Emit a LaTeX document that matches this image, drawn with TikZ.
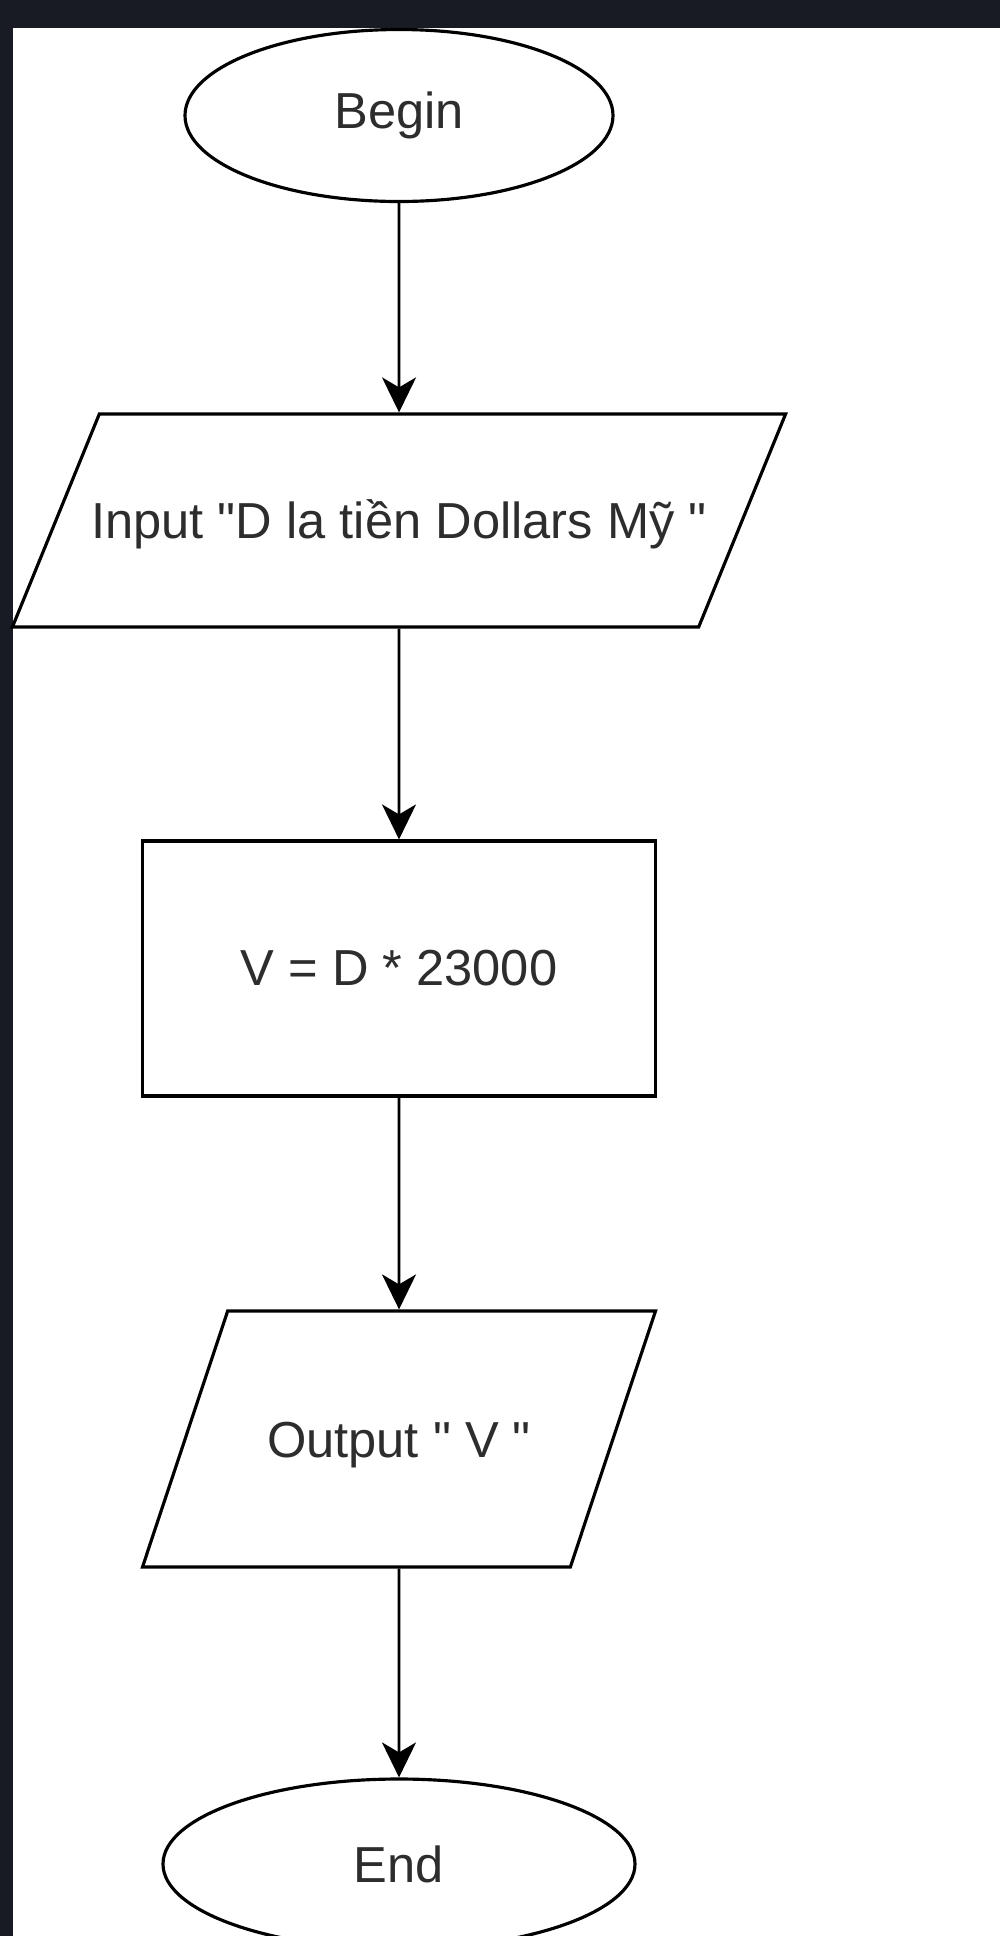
\documentclass[tikz,border=0pt]{standalone}
\usepackage{fontspec}
\setmainfont{Liberation Sans}[Ligatures=TeXOff]
\usetikzlibrary{shapes.geometric,arrows.meta}
\definecolor{darkbg}{RGB}{24,27,36}
\definecolor{txt}{RGB}{45,45,45}
\tikzset{
    box/.style={draw, line width=0.9pt, text=txt, font=\fontsize{14.4pt}{17pt}\selectfont},
    term/.style={box, ellipse, inner sep=0pt},
    io/.style={box, trapezium, trapezium stretches body, inner xsep=0pt, inner ysep=0pt},
    arr/.style={line width=0.75pt, -{Stealth[length=3.5mm,width=3.4mm,inset=1mm]}}
}
\begin{document}
\begin{tikzpicture}
        \useasboundingbox (0,0) rectangle (10,-19.36);
        \clip (0,0) rectangle (10,-19.36);
        \fill[darkbg] (0,0) rectangle (10,-19.36);
        \fill[white] (0.13,-0.28) rectangle (10,-19.36);
        \node[term, minimum width=4.28cm, minimum height=1.72cm] (begin) at (3.99,-1.155) {Begin};
        \node[io, inner xsep=-0.08cm, trapezium left angle=67.8, trapezium right angle=112.2, minimum width=7.69cm, text height=1.246cm, text depth=0.884cm] (input) at (3.99,-5.205) {Input "D la tiền Dollars Mỹ "};
        \node[box, minimum width=5.13cm, minimum height=2.55cm] (calc) at (3.99,-9.685) {V = D * 23000};
        \node[io, trapezium left angle=71.6, trapezium right angle=108.4, minimum width=5.13cm, text height=1.46cm, text depth=1.10cm] (output) at (3.99,-14.39) {Output " V "};
        \node[term, minimum width=4.72cm, minimum height=1.70cm] (end) at (3.99,-18.64) {End};
        \draw[arr] (begin) -- (input);
        \draw[arr] (input) -- (calc);
        \draw[arr] (calc) -- (output);
        \draw[arr] (output) -- (end);
    \end{tikzpicture}
\end{document}
